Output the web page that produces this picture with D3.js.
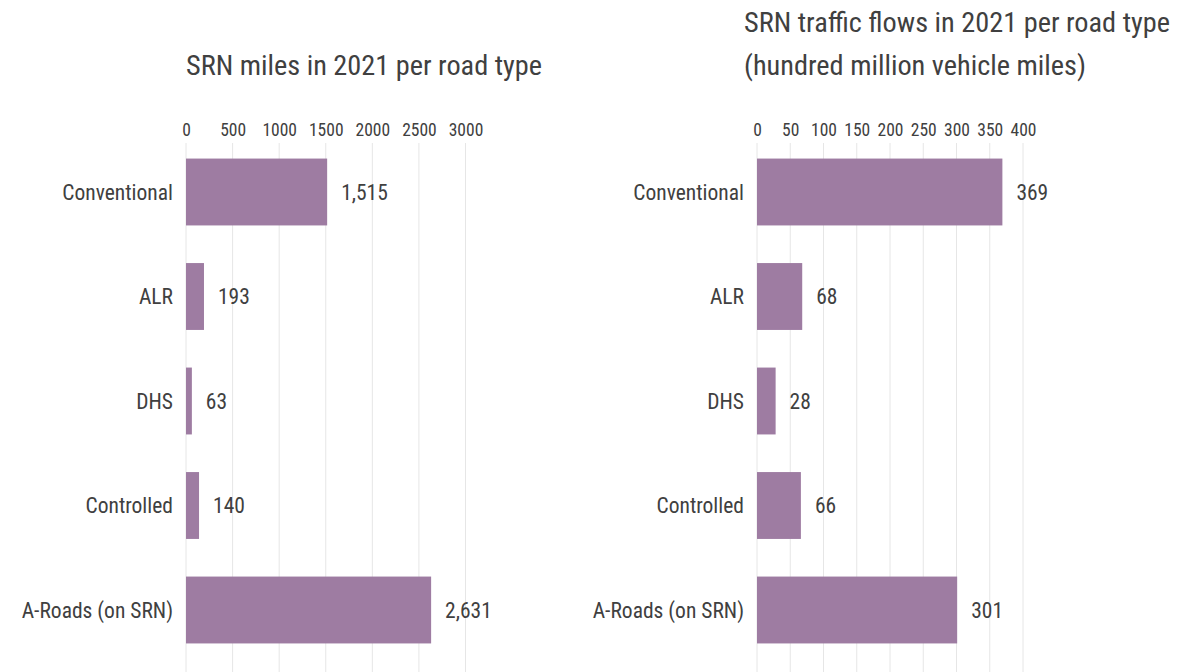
<!DOCTYPE html>
<html><head><meta charset="utf-8">
<script src="https://cdn.jsdelivr.net/npm/d3@7"></script>
<style>
body{margin:0;background:#fff;}
text{font-family:"Liberation Sans Narrow","Arial Narrow","Roboto Condensed",sans-serif;fill:#404040;}
</style></head>
<body><svg id="c" width="1195" height="672"></svg>
<script>
const categories = ["Conventional","ALR","DHS","Controlled","A-Roads (on SRN)"];
const milesValues = [1515,193,63,140,2631];
const flowValues = [369,68,28,66,301];
const milesTicks = [0,500,1000,1500,2000,2500,3000];
const flowTicks = [0,50,100,150,200,250,300,350,400];
const milesTitle = ["SRN miles in 2021 per road type"];
const flowTitle = ["SRN traffic flows in 2021 per road type","(hundred million vehicle miles)"];

const svg = d3.select("#c");
const barColor = "#9e7ca2";

function panel(opts){
  const g = svg.append("g");
  const x = d3.scaleLinear().domain(opts.domain).range(opts.xr);
  const y = d3.scaleBand().domain(categories).range([139.75,662.25]).paddingInner(0.36).paddingOuter(0.18);
  g.selectAll("line.grid").data(opts.ticks).join("line")
    .attr("x1",d=>x(d)).attr("x2",d=>x(d)).attr("y1",143).attr("y2",672)
    .attr("stroke","#e6e6e6").attr("stroke-width",1);
  const ax = g.append("g").attr("transform","translate(0,136)")
    .call(d3.axisTop(x).tickValues(opts.ticks).tickSize(0).tickPadding(0).tickFormat(d3.format("d")));
  ax.select(".domain").remove();
  ax.selectAll("text").style("font-size","17.5px").attr("fill","#404040");
  g.selectAll("rect").data(opts.values).join("rect")
    .attr("x",x(0)).attr("y",(d,i)=>y(categories[i]))
    .attr("width",d=>x(d)-x(0)).attr("height",y.bandwidth())
    .attr("fill",barColor);
  g.selectAll("text.cat").data(categories).join("text").attr("class","cat")
    .attr("x",x(0)-13).attr("y",d=>y(d)+y.bandwidth()/2).attr("dy","0.35em")
    .attr("text-anchor","end").style("font-size","21.5px").text(d=>d);
  g.selectAll("text.val").data(opts.values).join("text").attr("class","val")
    .attr("x",d=>x(d)+14).attr("y",(d,i)=>y(categories[i])+y.bandwidth()/2).attr("dy","0.35em")
    .style("font-size","21.5px").text(d=>opts.fmt(d));
  g.selectAll("text.title").data(opts.title).join("text").attr("class","title")
    .attr("x",opts.titleX).attr("y",(d,i)=>opts.titleY + i*43 - (opts.title.length-1)*43)
    .style("font-size",opts.titleSize).text(d=>d);
}

panel({domain:[0,3000],xr:[186,465.5],ticks:milesTicks,values:milesValues,fmt:d3.format(","),title:milesTitle,titleX:186,titleY:75,titleSize:"28.3px"});
panel({domain:[0,400],xr:[757,1023],ticks:flowTicks,values:flowValues,fmt:d3.format("d"),title:flowTitle,titleX:744,titleY:75,titleSize:"28.3px"});
</script></body></html>
